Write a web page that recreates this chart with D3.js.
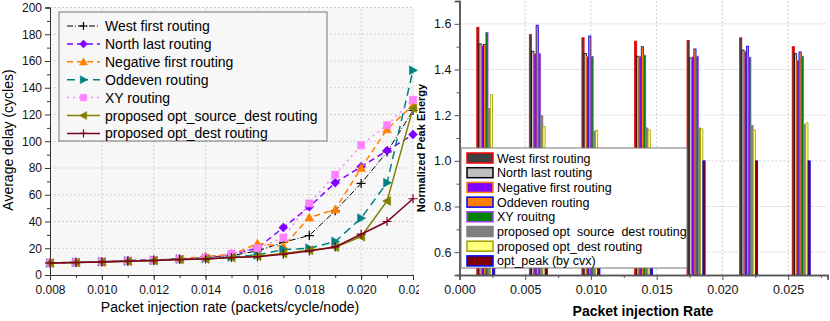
<!DOCTYPE html>
<html>
<head>
<meta charset="UTF-8">
<title></title>
<script src="https://d3js.org/d3.v7.min.js"></script>
<style>
  body { margin: 0; background: #fff; }
  svg { display: block; font-family: "Liberation Sans", Arial, sans-serif; }
</style>
</head>
<body>
<svg id="chart" width="830" height="321"></svg>
<script>
// ---- left chart data (average delay) ----
var rates = [0.008, 0.009, 0.010, 0.011, 0.012, 0.013, 0.014, 0.015, 0.016, 0.017, 0.018, 0.019, 0.020, 0.021, 0.022];
var westFirst   = [9, 9.5, 10, 10.5, 11, 12, 13, 14.5, 18, 24.5, 29.5, 48, 68.5, 92, 123];
var northLast   = [9, 9.5, 10, 10.8, 11.3, 12, 13, 15.5, 20, 35.5, 51, 69, 81, 93, 105];
var negFirst    = [9, 9.5, 10, 10.5, 11, 12, 14, 15, 23.5, 21.5, 43, 49, 80, 109, 127];
var oddEven     = [9, 9.5, 10, 10.5, 11, 12, 12.5, 13.5, 15, 19, 20, 25, 42.5, 69, 153];
var xyRouting   = [9, 9.5, 10, 10.5, 11, 12, 13, 16, 20, 28, 53.5, 75, 97, 112, 131];
var optSrcDest  = [9, 9.3, 9.8, 10.3, 10.8, 11.5, 12, 13, 14, 16, 18.5, 20.7, 28.6, 55.3, 124.6];
var optDest     = [9, 9.3, 9.8, 10.3, 10.8, 11.5, 12, 13, 13.7, 15.5, 18, 21, 30.5, 40, 57];
var delayTicksX = [0.008, 0.010, 0.012, 0.014, 0.016, 0.018, 0.020, 0.022];
var delayTicksY = [0, 20, 40, 60, 80, 100, 120, 140, 160, 180, 200];

// ---- right chart data (normalized peak energy) ----
var groupRates  = [0.002, 0.006, 0.010, 0.014, 0.018, 0.022, 0.026];
var eWest       = [1.585, 1.553, 1.539, 1.524, 1.527, 1.539, 1.50];
var eNorth      = [1.512, 1.480, 1.470, 1.458, 1.451, 1.485, 1.469];
var eNeg        = [1.505, 1.469, 1.457, 1.458, 1.455, 1.480, 1.440];
var eOdd        = [1.510, 1.594, 1.547, 1.500, 1.490, 1.502, 1.477];
var eXY         = [1.562, 1.469, 1.457, 1.463, 1.458, 1.454, 1.458];
var eSrcDest    = [1.229, 1.198, 1.130, 1.144, 1.144, 1.155, 1.159];
var eDest       = [1.290, 1.150, 1.134, 1.135, 1.140, 1.135, 1.166];
var ePeak       = [1.0, 1.0, 1.0, 1.0, 1.0, 1.0, 1.0];
var energyTicksX = [0.000, 0.005, 0.010, 0.015, 0.020, 0.025];
var energyTicksY = [0.6, 0.8, 1.0, 1.2, 1.4, 1.6];

var svg = d3.select('#chart');

// ================= left chart =================
var xL = d3.scaleLinear().domain([0.008, 0.022]).range([50, 413]);
var yL = d3.scaleLinear().domain([0, 200]).range([275, 7.5]);

var left = svg.append('g');
left.append('rect').attr('x', 50).attr('y', 7.5).attr('width', 363).attr('height', 267.5)
    .attr('fill', '#f7f7f7');

// grid
left.append('g').selectAll('line').data(delayTicksX.slice(1)).enter().append('line')
    .attr('x1', function(d){ return xL(d); }).attr('x2', function(d){ return xL(d); })
    .attr('y1', yL(0)).attr('y2', yL(200))
    .attr('stroke', '#d0d0d0').attr('stroke-dasharray', '2,2');
left.append('g').selectAll('line').data(delayTicksY.slice(1)).enter().append('line')
    .attr('x1', xL(0.008)).attr('x2', xL(0.022))
    .attr('y1', function(d){ return yL(d); }).attr('y2', function(d){ return yL(d); })
    .attr('stroke', '#d0d0d0').attr('stroke-dasharray', '2,2');

// axes
left.append('g').attr('transform', 'translate(0,275)')
    .call(d3.axisBottom(xL).tickValues(delayTicksX).tickFormat(d3.format('.3f')).tickSize(5).tickPadding(5));
left.append('g').attr('transform', 'translate(0,275)')
    .call(d3.axisBottom(xL).tickValues(rates).tickFormat('').tickSize(3));
left.append('g').attr('transform', 'translate(50,0)')
    .call(d3.axisLeft(yL).tickValues(delayTicksY).tickSize(5).tickPadding(3));
left.append('g').attr('transform', 'translate(50,0)')
    .call(d3.axisLeft(yL).tickValues(d3.range(10, 200, 20)).tickFormat('').tickSize(3));
left.selectAll('.domain').attr('stroke', '#333');
left.selectAll('.tick line').attr('stroke', '#333');
left.selectAll('.tick text').attr('font-size', 12).attr('fill', '#111')
    .attr('font-family', '"Liberation Sans", Arial, sans-serif');

left.append('text').attr('x', 230).attr('y', 312).attr('text-anchor', 'middle')
    .attr('font-size', 14).text('Packet injection rate (packets/cycle/node)');
left.append('text').attr('transform', 'translate(13,140) rotate(-90)').attr('text-anchor', 'middle')
    .attr('font-size', 14).text('Average delay (cycles)');

var delaySeries = [
  { name: 'West first routing', values: westFirst, color: '#000000', dash: '6,2,1,2', marker: 'plus', width: 1 },
  { name: 'North last routing', values: northLast, color: '#8000ff', dash: '6,4', marker: 'diamond', width: 1.5 },
  { name: 'Negative first routing', values: negFirst, color: '#ff8000', dash: '6,4', marker: 'triUp', width: 1.5 },
  { name: 'Oddeven routing', values: oddEven, color: '#008080', dash: '8,5', marker: 'triRight', width: 1.5 },
  { name: 'XY routing', values: xyRouting, color: '#ff80ff', dash: '2,4', marker: 'square', width: 1.5 },
  { name: 'proposed opt_source_dest routing', values: optSrcDest, color: '#808000', dash: null, marker: 'triLeft', width: 1.5 },
  { name: 'proposed opt_dest routing', values: optDest, color: '#800020', dash: null, marker: 'plus', width: 1.5 }
];

function markerPath(type, s) {
  if (type === 'diamond') return 'M0,' + (-s) + 'L' + s + ',0L0,' + s + 'L' + (-s) + ',0Z';
  if (type === 'triUp') return 'M0,' + (-s) + 'L' + s + ',' + (s * 0.8) + 'L' + (-s) + ',' + (s * 0.8) + 'Z';
  if (type === 'triRight') return 'M' + s + ',0L' + (-s * 0.8) + ',' + (-s) + 'L' + (-s * 0.8) + ',' + s + 'Z';
  if (type === 'triLeft') return 'M' + (-s) + ',0L' + (s * 0.8) + ',' + (-s) + 'L' + (s * 0.8) + ',' + s + 'Z';
  if (type === 'square') return 'M' + (-s * 0.8) + ',' + (-s * 0.8) + 'h' + (1.6 * s) + 'v' + (1.6 * s) + 'h' + (-1.6 * s) + 'Z';
  return 'M' + (-s) + ',0H' + s + 'M0,' + (-s) + 'V' + s;
}

function drawMarker(sel, ser, s) {
  sel.append('path').attr('d', markerPath(ser.marker, s))
    .attr('fill', ser.marker === 'plus' ? 'none' : ser.color)
    .attr('stroke', ser.color).attr('stroke-width', ser.marker === 'plus' ? 1.2 : 0.5);
}

var line = d3.line().x(function(d){ return xL(d[0]); }).y(function(d){ return yL(d[1]); });
var plot = left.append('g');
delaySeries.forEach(function(ser) {
  var pts = rates.map(function(r, i){ return [r, ser.values[i]]; });
  plot.append('path').datum(pts).attr('d', line).attr('fill', 'none')
    .attr('stroke', ser.color).attr('stroke-width', ser.width)
    .attr('stroke-dasharray', ser.dash);
  pts.forEach(function(p) {
    var g = plot.append('g').attr('transform', 'translate(' + xL(p[0]) + ',' + yL(p[1]) + ')');
    drawMarker(g, ser, 4.5);
  });
});

// legend
var lg = left.append('g');
lg.append('rect').attr('x', 59).attr('y', 12).attr('width', 268).attr('height', 129)
  .attr('fill', '#f7f7f7').attr('stroke', '#777').attr('stroke-width', 1);
delaySeries.forEach(function(ser, i) {
  var y = 26 + i * 17.9;
  lg.append('line').attr('x1', 67).attr('x2', 100).attr('y1', y).attr('y2', y)
    .attr('stroke', ser.color).attr('stroke-width', ser.width).attr('stroke-dasharray', ser.dash);
  var g = lg.append('g').attr('transform', 'translate(83.5,' + y + ')');
  drawMarker(g, ser, 4);
  lg.append('text').attr('x', 105).attr('y', y + 5).attr('font-size', 14).text(ser.name);
});

// ================= right chart =================
var xR = d3.scaleLinear().domain([0, 0.028]).range([459.5, 827.5]);
var yR = d3.scaleLinear().domain([0.5, 1.7]).range([275, 1]);

var right = svg.append('g');
right.append('rect').attr('x', 419).attr('y', 0).attr('width', 411).attr('height', 321).attr('fill', '#fff');
right.append('g').selectAll('line').data(energyTicksX.slice(1)).enter().append('line')
    .attr('x1', function(d){ return xR(d); }).attr('x2', function(d){ return xR(d); })
    .attr('y1', yR(0.5)).attr('y2', yR(1.7))
    .attr('stroke', '#d0d0d0').attr('stroke-dasharray', '2,2');
right.append('g').selectAll('line').data(energyTicksY).enter().append('line')
    .attr('x1', xR(0)).attr('x2', xR(0.028))
    .attr('y1', function(d){ return yR(d); }).attr('y2', function(d){ return yR(d); })
    .attr('stroke', '#d0d0d0').attr('stroke-dasharray', '2,2');

var energySeries = [
  { name: 'West first routing', values: eWest, fill: '#404040', stroke: '#ff0000' },
  { name: 'North last routing', values: eNorth, fill: '#c0c0c0', stroke: '#000000' },
  { name: 'Negative first routing', values: eNeg, fill: '#8000ff', stroke: '#ff8000' },
  { name: 'Oddeven routing', values: eOdd, fill: '#ff8000', stroke: '#0000ff' },
  { name: 'XY rouitng', values: eXY, fill: '#008000', stroke: '#a040ff' },
  { name: 'proposed opt\u00a0 source\u00a0 dest routing', values: eSrcDest, fill: '#808080', stroke: '#808080' },
  { name: 'proposed opt_dest routing', values: eDest, fill: '#ffff80', stroke: '#a0a000' },
  { name: 'opt_peak (by cvx)', values: ePeak, fill: '#800000', stroke: '#0000ff' }
];

var barW = 0.000172;
var bars = right.append('g');
energySeries.forEach(function(ser, k) {
  bars.selectAll(null).data(groupRates).enter().append('rect')
    .attr('x', function(d){ return xR(d + (k - 4) * barW); })
    .attr('width', xR(barW) - xR(0))
    .attr('y', function(d, i){ return yR(ser.values[i]); })
    .attr('height', function(d, i){ return yR(0.5) - yR(ser.values[i]); })
    .attr('fill', ser.fill).attr('stroke', ser.stroke).attr('stroke-width', 0.8);
});

right.append('g').attr('transform', 'translate(0,275)')
    .call(d3.axisBottom(xR).tickValues(energyTicksX).tickFormat(d3.format('.3f')).tickSize(5).tickPadding(5));
right.append('g').attr('transform', 'translate(0,275)')
    .call(d3.axisBottom(xR).tickValues(d3.range(0.0025, 0.028, 0.005)).tickFormat('').tickSize(3));
right.append('g').attr('transform', 'translate(459.5,0)')
    .call(d3.axisLeft(yR).tickValues(energyTicksY).tickFormat(d3.format('.1f')).tickSize(5).tickPadding(3));
right.append('g').attr('transform', 'translate(459.5,0)')
    .call(d3.axisLeft(yR).tickValues([0.7, 0.9, 1.1, 1.3, 1.5]).tickFormat('').tickSize(3));
right.selectAll('.domain').attr('stroke', '#555').attr('stroke-width', 1.5);
right.selectAll('.tick line').attr('stroke', '#555');
right.selectAll('.tick text').attr('font-size', 12.5).attr('fill', '#111')
    .attr('font-family', '"Liberation Sans", Arial, sans-serif');

right.append('text').attr('x', 643).attr('y', 316).attr('text-anchor', 'middle')
    .attr('font-size', 14).attr('font-weight', 'bold').text('Packet injection Rate');
right.append('text').attr('transform', 'translate(425,148) rotate(-90)').attr('text-anchor', 'middle')
    .attr('font-size', 11).attr('font-weight', 'bold').text('Normalized Peak Energy');

var lgR = right.append('g');
lgR.append('rect').attr('x', 461).attr('y', 148).attr('width', 226).attr('height', 120)
  .attr('fill', '#fff').attr('stroke', '#777');
energySeries.forEach(function(ser, i) {
  var y = 158 + i * 14.7;
  lgR.append('rect').attr('x', 467).attr('y', y - 5).attr('width', 26).attr('height', 10)
    .attr('fill', ser.fill).attr('stroke', ser.stroke).attr('stroke-width', 1.5);
  lgR.append('text').attr('x', 497).attr('y', y + 4.5).attr('font-size', 12.5).text(ser.name);
});
</script>
</body>
</html>
